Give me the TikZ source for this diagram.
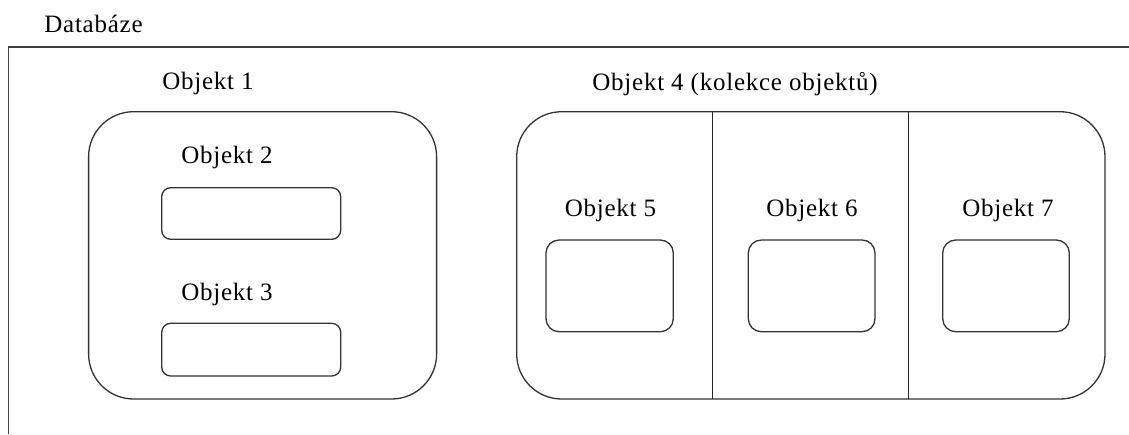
\documentclass[tikz,border=0pt]{standalone}
\usepackage{fontspec}
\setmainfont{Liberation Serif}[LetterSpace=3]
\begin{document}
\begin{tikzpicture}[x=1pt,y=-1pt,
  lbl/.style={anchor=base,inner sep=0pt,font=\fontsize{25}{29}\selectfont},
  bigbox/.style={draw=black!80,line width=1.3pt,rounded corners=45pt,inner sep=0pt},
  smallbox/.style={draw=black!80,line width=1.3pt,rounded corners=9pt,inner sep=0pt},
  sqbox/.style={draw=black!80,line width=1.3pt,rounded corners=13pt,inner sep=0pt},
  divider/.style={draw=black!85,line width=1.2pt},
  frame/.style={draw=black!75,line width=1.6pt}]
\useasboundingbox[fill=white] (0,0) rectangle (1129,434);
% frame
\coordinate (fTR) at (1129,46.7);
\coordinate (fTL) at (8.3,46.7);
\coordinate (fBL) at (8.3,434);
\draw[frame] (fTR) -- (fTL) -- (fBL);
\node[lbl] (db) at (93.5,32) {Databáze};
% Objekt 1
\node[lbl] (l1) at (208,89) {Objekt 1};
\node[bigbox,minimum width=348pt,minimum height=287.3pt] (o1) at (262.6,255.35) {};
\node[lbl] (l2) at (227,163.3) {Objekt 2};
\node[smallbox,minimum width=179pt,minimum height=51.6pt] (o2) at (251.2,213.5) {};
\node[lbl] (l3) at (227,300) {Objekt 3};
\node[smallbox,minimum width=179pt,minimum height=52.7pt] (o3) at (251.2,349.65) {};
% Objekt 4
\node[lbl] (l4) at (735,90) {Objekt 4 (kolekce objektů)};
\node[bigbox,minimum width=588.3pt,minimum height=287.3pt] (o4) at (810.85,255.35) {};
\coordinate (d1t) at (712.3,111.7);
\coordinate (d1b) at (712.3,399);
\coordinate (d2t) at (908.3,111.7);
\coordinate (d2b) at (908.3,399);
\draw[divider] (d1t) -- (d1b);
\draw[divider] (d2t) -- (d2b);
\node[lbl] (l5) at (610.5,216) {Objekt 5};
\node[sqbox,minimum width=127.3pt,minimum height=91.7pt] (o5) at (609.65,285.85) {};
\node[lbl] (l6) at (812,216) {Objekt 6};
\node[sqbox,minimum width=126.7pt,minimum height=91.7pt] (o6) at (811.65,285.85) {};
\node[lbl] (l7) at (1008,216) {Objekt 7};
\node[sqbox,minimum width=126.6pt,minimum height=91.7pt] (o7) at (1006,285.85) {};
\end{tikzpicture}
\end{document}
